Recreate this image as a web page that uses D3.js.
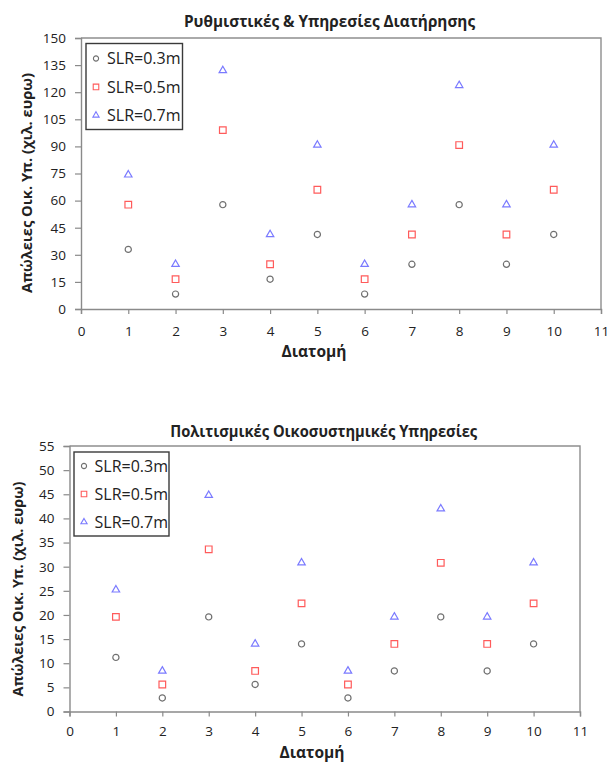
<!DOCTYPE html>
<html>
<head>
<meta charset="utf-8">
<script src="https://cdn.jsdelivr.net/npm/d3@7"></script>
<style>
  html, body { margin: 0; padding: 0; background: #fff; }
  svg { display: block; }
  text { font-family: "Open Sans", "Noto Sans", sans-serif; fill: #222; }
</style>
</head>
<body>
<svg id="chart" width="610" height="762"></svg>
<script>
// Cross-section numbers along the coast
const sections = [1, 2, 3, 4, 5, 6, 7, 8, 9, 10];
const seriesNames = ["SLR=0.3m", "SLR=0.5m", "SLR=0.7m"];

// Regulating & maintenance services losses (thousand euro)
const regulating03 = [33, 8.25, 57.75, 16.5, 41.25, 8.25, 24.75, 57.75, 24.75, 41.25];
const regulating05 = [57.75, 16.5, 99, 24.75, 66, 16.5, 41.25, 90.75, 41.25, 66];
const regulating07 = [74.25, 24.75, 132, 41.25, 90.75, 24.75, 57.75, 123.75, 57.75, 90.75];

// Cultural ecosystem services losses (thousand euro)
const cultural03 = [11.2, 2.8, 19.6, 5.6, 14, 2.8, 8.4, 19.6, 8.4, 14];
const cultural05 = [19.6, 5.6, 33.6, 8.4, 22.4, 5.6, 14, 30.8, 14, 22.4];
const cultural07 = [25.2, 8.4, 44.8, 14, 30.8, 8.4, 19.6, 42, 19.6, 30.8];

const xTicks = [0, 1, 2, 3, 4, 5, 6, 7, 8, 9, 10, 11];
const regulatingYTicks = [0, 15, 30, 45, 60, 75, 90, 105, 120, 135, 150];
const culturalYTicks = [0, 5, 10, 15, 20, 25, 30, 35, 40, 45, 50, 55];

const titles = ["Ρυθμιστικές & Υπηρεσίες Διατήρησης", "Πολιτισμικές Οικοσυστημικές Υπηρεσίες"];
const xTitle = "Διατομή";
const yTitle = "Απώλειες Οικ. Υπ. (χιλ. ευρω)";

// marker style per series: circle, square, triangle
const markerTypes = [d3.symbolCircle, d3.symbolSquare, d3.symbolTriangle];
const markerColors = ["#707070", "#ff5b5b", "#7a7aff"];
const markerSizes = [30, 44, 24];

const svg = d3.select("#chart");

// bold titles are drawn narrow, squeezed to a set width
function squeeze(sel, width) {
  sel.attr("textLength", width).attr("lengthAdjust", "spacingAndGlyphs");
}

function drawChart(cfg) {
  const g = svg.append("g");
  const x = d3.scaleLinear().domain([0, 11]).range([cfg.left, cfg.right]);
  const y = d3.scaleLinear().domain([0, cfg.yMax]).range([cfg.bottom, cfg.top]);

  // plot frame (top and right)
  g.append("path")
    .attr("d", `M${cfg.left},${cfg.top}H${cfg.right}V${cfg.bottom}`)
    .attr("fill", "none").attr("stroke", "#8e8e8e").attr("stroke-width", 1.4);

  // y axis
  const yAxis = g.append("g")
    .attr("transform", `translate(${cfg.left},0)`)
    .call(d3.axisLeft(y).tickValues(cfg.yTicks).tickSize(6).tickPadding(9).tickFormat(d3.format("d")));
  // x axis
  const xAxis = g.append("g")
    .attr("transform", `translate(0,${cfg.bottom})`)
    .call(d3.axisBottom(x).tickValues(xTicks).tickSize(5).tickPadding(cfg.xTickPad).tickFormat(d3.format("d")));

  [yAxis, xAxis].forEach(a => {
    a.select(".domain").attr("stroke", "#8a8a8a").attr("stroke-width", 1.4);
    a.selectAll(".tick line").attr("stroke", "#8a8a8a").attr("stroke-width", 1.2);
    a.selectAll(".tick text")
      .style("font-family", '"Open Sans", sans-serif')
      .style("font-size", "13.5px").attr("fill", "#222");
  });

  // points
  cfg.series.forEach((vals, si) => {
    const sym = d3.symbol().type(markerTypes[si]).size(markerSizes[si]);
    g.append("g").selectAll("path")
      .data(vals.map((v, i) => ({ s: sections[i], v })))
      .join("path")
      .attr("d", sym)
      .attr("transform", d => `translate(${x(d.s)},${y(d.v)})`)
      .attr("fill", "none")
      .attr("stroke", markerColors[si])
      .attr("stroke-width", 1.2);
  });

  // legend
  const lg = cfg.legend;
  g.append("rect")
    .attr("x", lg.x).attr("y", lg.y).attr("width", lg.w).attr("height", lg.h)
    .attr("fill", "#fff").attr("stroke", "#3a3a3a").attr("stroke-width", 1.4);
  seriesNames.forEach((name, si) => {
    const cy = lg.y + lg.rowStart + si * lg.rowStep;
    g.append("path")
      .attr("d", d3.symbol().type(markerTypes[si]).size(markerSizes[si] * 0.7)())
      .attr("transform", `translate(${lg.x + lg.markerX},${cy})`)
      .attr("fill", "none").attr("stroke", markerColors[si]).attr("stroke-width", 1.1);
    g.append("text")
      .attr("x", lg.x + lg.textX).attr("y", cy)
      .attr("dy", "0.35em")
      .style("font-size", "16px")
      .text(name);
  });

  // titles
  const t = g.append("text")
    .attr("x", cfg.titleX - cfg.titleW / 2).attr("y", cfg.titleY)
    .style("font-size", "16.5px").style("font-weight", "bold")
    .text(cfg.title);
  squeeze(t, cfg.titleW);

  const xt = g.append("text")
    .attr("x", cfg.xTitleX - 32.5).attr("y", cfg.bottom + cfg.xTitleGap)
    .style("font-size", "16px").style("font-weight", "bold")
    .text(xTitle);
  squeeze(xt, 65);

  const yt = g.append("text")
    .attr("transform", `translate(${cfg.yTitleX},${cfg.yTitleY + cfg.yTitleW / 2}) rotate(-90)`)
    .attr("dy", "0.35em")
    .style("font-size", "15px").style("font-weight", "bold")
    .text(yTitle);
  squeeze(yt, cfg.yTitleW);
}

drawChart({
  left: 81, right: 601, top: 38, bottom: 309, yMax: 150,
  yTicks: regulatingYTicks, xTickPad: 12,
  series: [regulating03, regulating05, regulating07],
  legend: { x: 86, y: 43.5, w: 96.5, h: 86, markerX: 10, textX: 21, rowStart: 15, rowStep: 28.4 },
  title: titles[0], titleX: 329.5, titleY: 26.5, titleW: 291,
  xTitleX: 314, xTitleGap: 48, yTitleX: 27, yTitleY: 183, yTitleW: 220
});

drawChart({
  left: 69.5, right: 580, top: 446, bottom: 711.5, yMax: 55,
  yTicks: culturalYTicks, xTickPad: 10,
  series: [cultural03, cultural05, cultural07],
  legend: { x: 74, y: 452, w: 95, h: 84, markerX: 10, textX: 20.5, rowStart: 14, rowStep: 28 },
  title: titles[1], titleX: 323.7, titleY: 437, titleW: 307,
  xTitleX: 312, xTitleGap: 46.5, yTitleX: 18, yTitleY: 589, yTitleW: 215
});
</script>
</body>
</html>
